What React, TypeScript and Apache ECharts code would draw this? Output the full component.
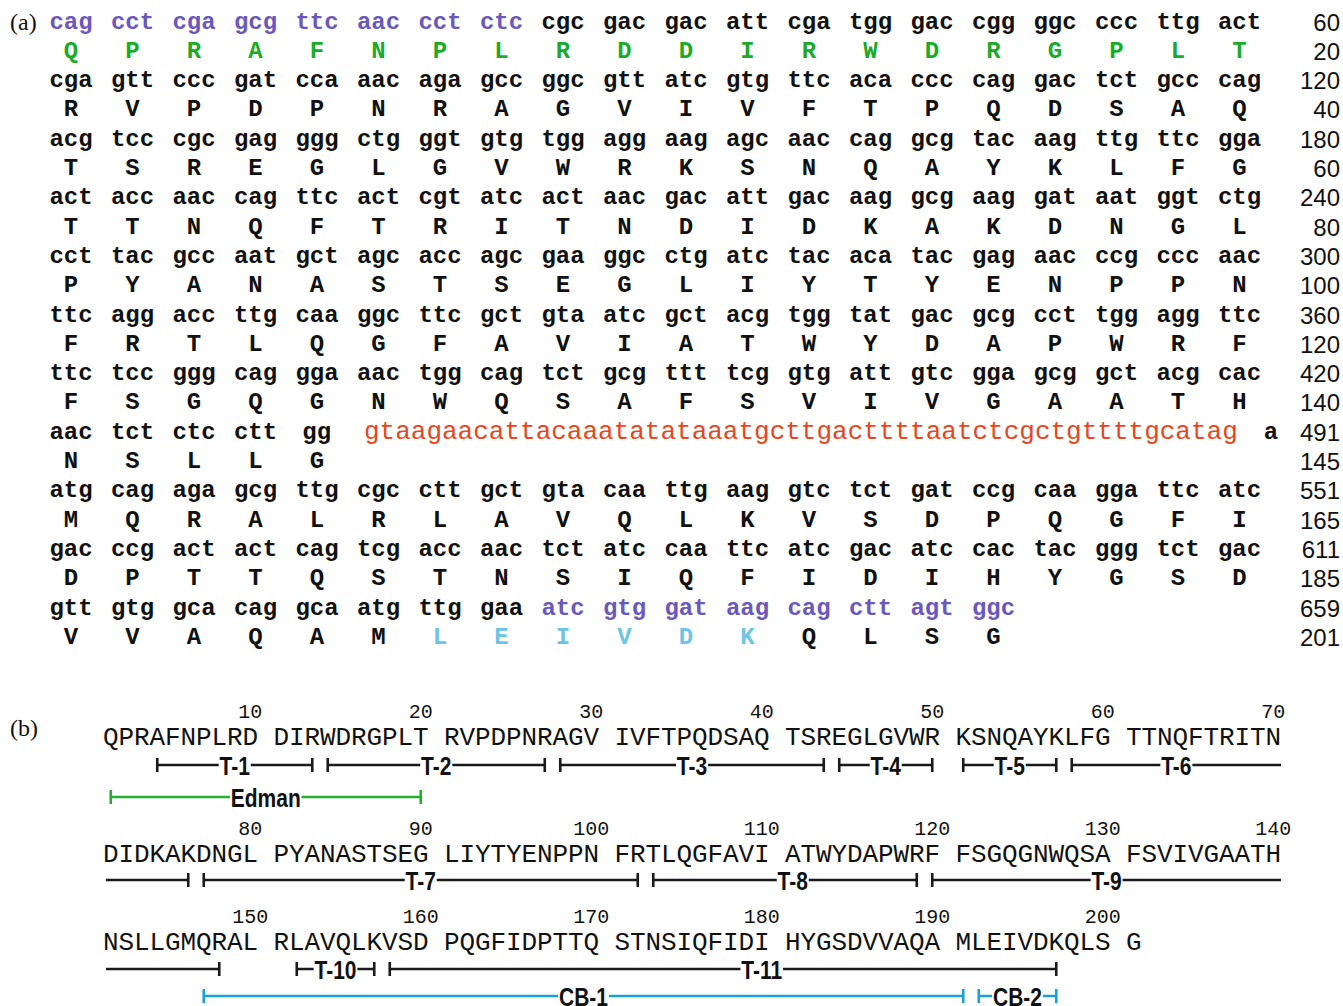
import React, { useEffect, useRef } from "react";
import * as echarts from "echarts";

// ---------- DATA ----------
const codonRows: string[][] = [
  ["cag","cct","cga","gcg","ttc","aac","cct","ctc","cgc","gac","gac","att","cga","tgg","gac","cgg","ggc","ccc","ttg","act"],
  ["cga","gtt","ccc","gat","cca","aac","aga","gcc","ggc","gtt","atc","gtg","ttc","aca","ccc","cag","gac","tct","gcc","cag"],
  ["acg","tcc","cgc","gag","ggg","ctg","ggt","gtg","tgg","agg","aag","agc","aac","cag","gcg","tac","aag","ttg","ttc","gga"],
  ["act","acc","aac","cag","ttc","act","cgt","atc","act","aac","gac","att","gac","aag","gcg","aag","gat","aat","ggt","ctg"],
  ["cct","tac","gcc","aat","gct","agc","acc","agc","gaa","ggc","ctg","atc","tac","aca","tac","gag","aac","ccg","ccc","aac"],
  ["ttc","agg","acc","ttg","caa","ggc","ttc","gct","gta","atc","gct","acg","tgg","tat","gac","gcg","cct","tgg","agg","ttc"],
  ["ttc","tcc","ggg","cag","gga","aac","tgg","cag","tct","gcg","ttt","tcg","gtg","att","gtc","gga","gcg","gct","acg","cac"],
  ["aac","tct","ctc","ctt","gg"],
  ["atg","cag","aga","gcg","ttg","cgc","ctt","gct","gta","caa","ttg","aag","gtc","tct","gat","ccg","caa","gga","ttc","atc"],
  ["gac","ccg","act","act","cag","tcg","acc","aac","tct","atc","caa","ttc","atc","gac","atc","cac","tac","ggg","tct","gac"],
  ["gtt","gtg","gca","cag","gca","atg","ttg","gaa","atc","gtg","gat","aag","cag","ctt","agt","ggc"],
];
const aaRows: string[] = [
  "QPRAFNPLRDDIRWDRGPLT",
  "RVPDPNRAGVIVFTPQDSAQ",
  "TSREGLGVWRKSNQAYKLFG",
  "TTNQFTRITNDIDKAKDNGL",
  "PYANASTSEGLIYTYENPPN",
  "FRTLQGFAVIATWYDAPWRF",
  "FSGQGNWQSAFSVIVGAATH",
  "NSLLG",
  "MQRALRLAVQLKVSDPQGFI",
  "DPTTQSTNSIQFIDIHYGSD",
  "VVAQAMLEIVDKQLSG",
];
const ntEnds: number[] = [60, 120, 180, 240, 300, 360, 420, 491, 551, 611, 659];
const aaEnds: number[] = [20, 40, 60, 80, 100, 120, 140, 145, 165, 185, 201];
const intronSeq = "gtaagaacattacaaatatataaatgcttgacttttaatctcgctgttttgcatag";
const intronTail = "a";
// highlighted spans: [row, firstIndex, lastIndex]
const purpleCodons: [number, number, number][] = [[0, 0, 7], [10, 8, 15]];
const greenAA: [number, number, number][] = [[0, 0, 19]];
const blueAA: [number, number, number][] = [[10, 6, 11]];

type Frag = { name: string; start: number; end: number; track: number; kind: "T" | "E" | "C"; labelRes?: number };
const fragments: Frag[] = [
  { name: "T-1", start: 4, end: 13, track: 0, kind: "T" },
  { name: "T-2", start: 14, end: 27, track: 0, kind: "T" },
  { name: "T-3", start: 28, end: 43, track: 0, kind: "T" },
  { name: "T-4", start: 44, end: 50, track: 0, kind: "T" },
  { name: "T-5", start: 51, end: 57, track: 0, kind: "T" },
  { name: "T-6", start: 58, end: 76, track: 0, kind: "T" },
  { name: "T-7", start: 77, end: 102, track: 0, kind: "T" },
  { name: "T-8", start: 103, end: 119, track: 0, kind: "T", labelRes: 111 },
  { name: "T-9", start: 120, end: 148, track: 0, kind: "T" },
  { name: "T-10", start: 152, end: 157, track: 0, kind: "T" },
  { name: "T-11", start: 158, end: 197, track: 0, kind: "T", labelRes: 180 },
  { name: "Edman", start: 1, end: 20, track: 1, kind: "E" },
  { name: "CB-1", start: 147, end: 191, track: 1, kind: "C" },
  { name: "CB-2", start: 192, end: 197, track: 1, kind: "C" },
];

// ---------- STYLE / LAYOUT ----------
const COL_PURPLE = "#6a58bd";
const COL_GREEN = "#1aab2a";
const COL_BLUE = "#6cc4e6";
const COL_RED = "#e8461c";
const COL_TEXT = "#111";
const fragColor: Record<string, string> = { T: "#1a1a1a", E: "#22b02e", C: "#1aa0d4" };

const MONO = '"Liberation Mono", "Courier New", monospace';
const SANS = '"Liberation Sans", Arial, sans-serif';
const SERIF = '"Liberation Serif", "Times New Roman", serif';

// panel (a)
const A_X0 = 71, A_DX = 61.5, A_Y0 = 22, A_ROW = 58.6, A_AA = 29.3, A_RIGHT = 1340;
const INTRON_X = 364, TAIL_X = 1271;
// panel (b)
const B_LEFT = 103, PITCH = 15.5, PER_ROW = 70;
const B_TEXT_Y = [738, 855, 943];
const B_BAR_Y = [[765, 797], [880, 912], [969, 996]];
const ROW_L = 106, ROW_R = 1281;

function inSpans(spans: [number, number, number][], r: number, i: number) {
  return spans.some(([sr, a, b]) => sr === r && i >= a && i <= b);
}
function resRow(n: number) { return Math.floor((n - 1) / PER_ROW); }
function resX(n: number) {
  const c = (n - 1) % PER_ROW;
  const col = c + Math.floor(c / 10);
  return B_LEFT + col * PITCH + PITCH / 2;
}

function buildElements() {
  const els: any[] = [];
  const txt = (text: string, x: number, y: number, font: string, fill: string, align = "center", extra: any = {}, el: any = {}) =>
    els.push({ type: "text", x, y, z: 10, ...el, style: { text, font, fill, textAlign: align, textVerticalAlign: "middle", ...extra } });

  // panel labels
  txt("(a)", 10, A_Y0, `24px ${SERIF}`, COL_TEXT, "left");
  txt("(b)", 10, 728, `24px ${SERIF}`, COL_TEXT, "left");

  // panel (a)
  codonRows.forEach((row, r) => {
    const yc = A_Y0 + r * A_ROW;
    const ya = yc + A_AA;
    row.forEach((cod, i) => {
      const x = A_X0 + i * A_DX;
      const col = inSpans(purpleCodons, r, i) ? COL_PURPLE : COL_TEXT;
      if (cod.length === 3) txt(cod, x, yc, `bold 24px ${MONO}`, col);
      else txt(cod, x - A_DX / 2 + 16, yc, `bold 24px ${MONO}`, col, "left");
    });
    aaRows[r].split("").forEach((aa, i) => {
      const x = A_X0 + i * A_DX;
      let col = COL_TEXT;
      if (inSpans(greenAA, r, i)) col = COL_GREEN;
      if (inSpans(blueAA, r, i)) col = COL_BLUE;
      txt(aa, x, ya, `bold 24px ${MONO}`, col);
    });
    if (row.length < 20 && row[row.length - 1].length < 3) {
      txt(intronSeq, INTRON_X, yc, `26px ${MONO}`, COL_RED, "left");
      txt(intronTail, TAIL_X, yc, `bold 24px ${MONO}`, COL_TEXT);
    }
    txt(String(ntEnds[r]), A_RIGHT, yc, `24px ${SANS}`, COL_TEXT, "right");
    txt(String(aaEnds[r]), A_RIGHT, ya, `24px ${SANS}`, COL_TEXT, "right");
  });

  // panel (b)
  const protein = aaRows.join("");
  protein.split("").forEach((aa, k) => {
    const n = k + 1;
    txt(aa, resX(n), B_TEXT_Y[resRow(n)], `26px ${MONO}`, COL_TEXT);
    if (n % 10 === 0) txt(String(n), resX(n), B_TEXT_Y[resRow(n)] - 26, `20px ${MONO}`, COL_TEXT);
  });

  const line = (x1: number, y1: number, x2: number, y2: number, stroke: string) =>
    els.push({ type: "line", z: 5, shape: { x1, y1, x2, y2 }, style: { stroke, lineWidth: 2.6 } });

  fragments.forEach((f) => {
    const color = fragColor[f.kind];
    const r1 = resRow(f.start), r2 = resRow(f.end);
    const segs: { row: number; x1: number; x2: number; t1: boolean; t2: boolean }[] = [];
    if (r1 === r2) segs.push({ row: r1, x1: resX(f.start), x2: resX(f.end), t1: true, t2: true });
    else {
      segs.push({ row: r1, x1: resX(f.start), x2: ROW_R, t1: true, t2: false });
      segs.push({ row: r2, x1: ROW_L, x2: resX(f.end), t1: false, t2: true });
    }
    segs.forEach((s, si) => {
      const y = B_BAR_Y[s.row][f.track];
      line(s.x1, y, s.x2, y, color);
      if (s.t1) line(s.x1, y - 7, s.x1, y + 7, color);
      if (s.t2) line(s.x2, y - 7, s.x2, y + 7, color);
      if (si === 0) {
        const lx = f.labelRes ? resX(f.labelRes) : (s.x1 + s.x2) / 2;
        txt(f.name, lx, y + 1, `bold 25px ${SANS}`, "#111", "center",
          { backgroundColor: "#fff", padding: [0, 1] }, { scaleX: 0.84 });
      }
    });
  });
  return els;
}

export default function App() {
  const ref = useRef<HTMLDivElement>(null);
  useEffect(() => {
    document.body.style.margin = "0";
    const chart = echarts.init(ref.current!, null, { renderer: "svg" });
    chart.setOption({
      animation: false,
      backgroundColor: "#fff",
      graphic: { elements: buildElements() },
    });
    return () => chart.dispose();
  }, []);
  return <div ref={ref} style={{ width: 1343, height: 1006 }} />;
}
